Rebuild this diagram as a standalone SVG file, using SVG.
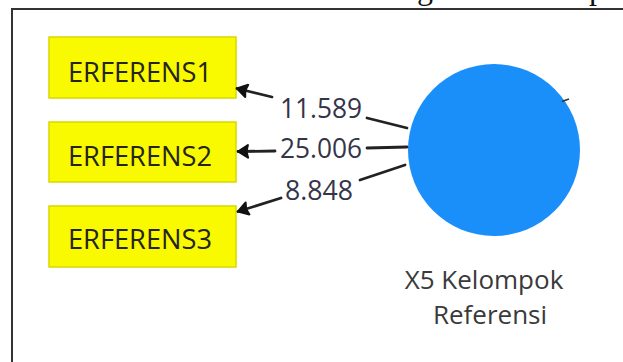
<svg xmlns="http://www.w3.org/2000/svg" width="623" height="362" viewBox="0 0 623 362">
  <style>
    .ind rect { fill: #f9f900; stroke: #d9d900; stroke-width: 1.5; }
    .ind text { font-family: "Open Sans", "DejaVu Sans", sans-serif; font-size: 28px; fill: #24241a; text-anchor: middle; }
    .edge { stroke: #222; stroke-width: 2.8; fill: none; stroke-linecap: round; }
    .w { font-family: "Open Sans", "DejaVu Sans", sans-serif; font-size: 28px; fill: #34344a; text-anchor: middle; }
    .lv-label { font-family: "Open Sans", "DejaVu Sans", sans-serif; font-size: 26px; fill: #3a3a3a; text-anchor: middle; }
    .frame { stroke: #333; stroke-width: 2; fill: none; }
    .page { font-family: "Liberation Serif", "Times New Roman", serif; font-size: 32px; fill: #111; }
  </style>
  <defs>
    <!-- filled arrowhead; tip sits on the path start, body runs along the line -->
    <marker id="head" viewBox="0 0 13 15" refX="1" refY="7.5" markerWidth="13" markerHeight="15" orient="auto" markerUnits="userSpaceOnUse">
      <path d="M1,7.5 L11,1.2 L9.5,7.5 L11,13.8 Z" fill="#111" stroke="#111" stroke-width="2" stroke-linejoin="round"/>
    </marker>
  </defs>

  <rect width="623" height="362" fill="#fff"/>

  <!-- page text running above the figure frame -->
  <text class="page" x="417" y="-1">g</text>
  <text class="page" x="589" y="-1">p</text>

  <!-- figure frame -->
  <path class="frame" d="M12,362 V9 H623"/>

  <g id="ERFERENS1" class="ind">
    <rect x="49" y="37" width="187" height="61"/>
    <text x="140" y="82" textLength="144" lengthAdjust="spacingAndGlyphs">ERFERENS1</text>
  </g>
  <g id="ERFERENS2" class="ind">
    <rect x="49" y="122" width="187" height="60"/>
    <text x="140" y="166" textLength="144" lengthAdjust="spacingAndGlyphs">ERFERENS2</text>
  </g>
  <g id="ERFERENS3" class="ind">
    <rect x="49" y="206" width="187" height="61"/>
    <text x="140" y="249" textLength="144" lengthAdjust="spacingAndGlyphs">ERFERENS3</text>
  </g>

  <g id="X5">
    <circle cx="494" cy="150" r="86" fill="#1a8ffa"/>
    <path d="M562,101.5 L569,99" stroke="#333" stroke-width="1.5"/>
    <text class="lv-label" x="484" y="289">X5 Kelompok</text>
    <text class="lv-label" x="490" y="324">Referensi</text>
  </g>

  <!-- connectors: latent variable to indicators, weights on the lines -->
  <g id="connectors">
    <path class="edge" marker-start="url(#head)" d="M237,88.5 L272,97"/>
    <path class="edge" d="M367,118 L407,128"/>
    <path class="edge" marker-start="url(#head)" d="M238,151.5 L275,151"/>
    <path class="edge" d="M367,148 L407,147"/>
    <path class="edge" marker-start="url(#head)" d="M238,211.5 L281,198"/>
    <path class="edge" d="M360,180 L405,165"/>
    <text class="w" x="321" y="118" textLength="82" lengthAdjust="spacingAndGlyphs">11.589</text>
    <text class="w" x="321" y="158" textLength="82" lengthAdjust="spacingAndGlyphs">25.006</text>
    <text class="w" x="319" y="200" textLength="68" lengthAdjust="spacingAndGlyphs">8.848</text>
  </g>
</svg>
